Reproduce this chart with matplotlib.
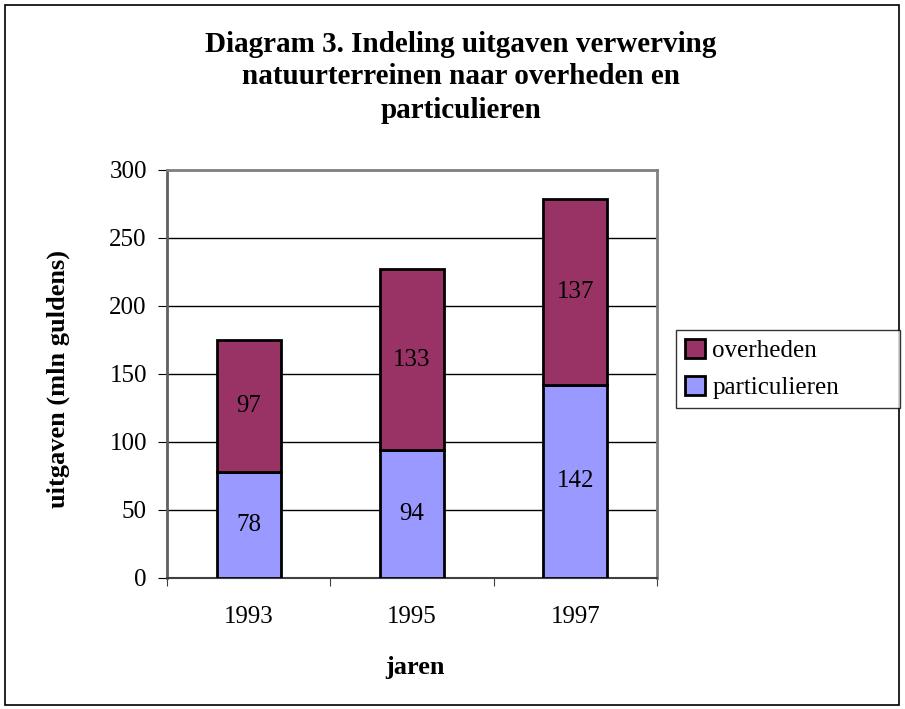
import matplotlib
matplotlib.use("Agg")
import matplotlib.pyplot as plt
from matplotlib.patches import Rectangle
import numpy as np

years = ["1993", "1995", "1997"]
particulieren = [78, 94, 142]
overheden = [97, 133, 137]
yticks = [0, 50, 100, 150, 200, 250, 300]

plt.rcParams['font.family'] = ['Liberation Serif', 'DejaVu Serif']

W, H = 905, 709
fig = plt.figure(figsize=(W/100, H/100), dpi=100)

# outer border
fig.patches.append(Rectangle((5/W, 4/H), 894/W, 700/H, transform=fig.transFigure,
                             fill=False, edgecolor='black', linewidth=1.2))

ax = fig.add_axes([167/W, 1-578/H, (657-167)/W, (578-170)/H])
x = np.arange(len(years))
bw = 0.39
c_part = '#9999FF'
c_over = '#993366'
ax.bar(x, particulieren, bw, color=c_part, edgecolor='black', linewidth=2, label='particulieren', zorder=3)
ax.bar(x, overheden, bw, bottom=particulieren, color=c_over, edgecolor='black', linewidth=2, label='overheden', zorder=3)

for i in range(len(years)):
    ax.text(x[i], particulieren[i]/2, str(particulieren[i]), ha='center', va='center', fontsize=18, zorder=4)
    ax.text(x[i], particulieren[i] + overheden[i]/2, str(overheden[i]), ha='center', va='center', fontsize=18, zorder=4)

ax.set_xlim(-0.5, 2.5)
ax.set_ylim(0, 300)
ax.set_yticks(yticks)
ax.set_yticklabels([str(v) for v in yticks], fontsize=18)
ax.yaxis.grid(True, color='black', linewidth=1, zorder=0)
ax.set_axisbelow(True)
ax.set_xticks([-0.5, 0.5, 1.5, 2.5])
ax.set_xticklabels([])
ax.set_xticks(x, minor=True)
ax.set_xticklabels(years, minor=True, fontsize=18)
ax.tick_params(axis='x', which='minor', length=0, pad=20)
ax.tick_params(axis='x', which='major', length=6, direction='out', color='#404040')
ax.tick_params(axis='y', length=6.5, direction='out', pad=8)
for s in ['top', 'right']:
    ax.spines[s].set_color('#808080')
    ax.spines[s].set_linewidth(2)
ax.spines['left'].set_color('#606060')
ax.spines['left'].set_linewidth(2)
ax.spines['bottom'].set_color('#404040')
ax.spines['bottom'].set_linewidth(1.5)

ax.set_ylabel('uitgaven (mln guldens)', fontsize=19, fontweight='bold')
ax.yaxis.set_label_coords(-0.198, 0.488)
ax.set_xlabel('jaren', fontsize=19, fontweight='bold')
ax.xaxis.set_label_coords(0.506, -0.19)

handles, labels = ax.get_legend_handles_labels()
leg = fig.legend(handles[::-1], labels[::-1], loc='upper left', mode='expand',
                 bbox_to_anchor=(676/W, 1-410/H, (900-676)/W, 80/H), fontsize=18, frameon=True,
                 fancybox=False, edgecolor='black', handlelength=0.8, handleheight=0.8,
                 handletextpad=0.3, borderpad=0.35, labelspacing=0.55, borderaxespad=0)
leg.get_frame().set_linewidth(1)

fig.text(461/W, 1-45/H, 'Diagram 3. Indeling uitgaven verwerving', ha='center', va='center',
         fontsize=21, fontweight='bold')
fig.text(461/W, 1-77/H, 'natuurterreinen naar overheden en', ha='center', va='center',
         fontsize=21, fontweight='bold')
fig.text(461/W, 1-111/H, 'particulieren', ha='center', va='center',
         fontsize=21, fontweight='bold')

fig.savefig('out.png', dpi=100)
